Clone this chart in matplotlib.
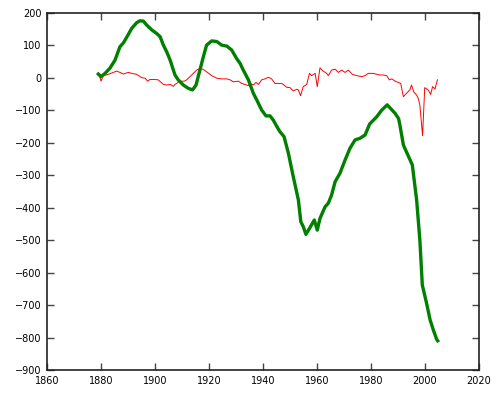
#!/usr/bin/python
# -*- coding: utf-8 -*-
"""Cumulative and annual values, 1879-2005, redrawn in gnuplot style."""

import matplotlib
matplotlib.use('Agg')
import matplotlib.pyplot as plt

# thick green line: cumulative series
cum_years = [1879, 1880, 1881.5, 1883.3, 1885.2, 1887, 1888.3, 1889.5, 1891.4,
             1893.2, 1894.4, 1895.7, 1896.9, 1898.8, 1900.6, 1901.9, 1903.1,
             1904.3, 1905.6, 1907.4, 1908.6, 1910.5, 1912.3, 1913.9, 1915.2,
             1916, 1917.9, 1919.1, 1921, 1922.9, 1924.7, 1926.6, 1928.4,
             1930.2, 1931.5, 1932.7, 1934.6, 1936.4, 1937.7, 1939.5, 1941.1,
             1942.6, 1943.8, 1945.7, 1946.3, 1947.8, 1949.4, 1951.2, 1953.1,
             1954, 1954.9, 1955.9, 1957.2, 1959, 1960.1, 1961.1, 1963, 1964.2,
             1965.4, 1966.7, 1968.5, 1970.4, 1972.2, 1974.1, 1975.9, 1977.8,
             1979.5, 1982.1, 1984, 1986, 1988.9, 1990.2, 1990.7, 1992, 1995.3,
             1996.9, 1998.1, 1999, 2000.6, 2001.9, 2003.1, 2004.3, 2004.7]
cum_values = [12, 4, 14, 30, 55, 96, 108, 125, 153,
              170, 176, 175, 163, 148, 137, 127, 101,
              81, 55, 9, -6, -22, -32, -37, -22,
              4, 65, 101, 114, 112, 101, 98, 86,
              60, 45, 24, -6, -47, -68, -99, -117,
              -117, -130, -158, -166, -181, -232, -304, -376,
              -443, -458, -482, -464, -438, -469, -433, -397, -386,
              -361, -320, -294, -253, -217, -191, -186, -176,
              -142, -120, -99, -83, -109, -125, -145, -207, -268,
              -376, -500, -638, -695, -746, -777, -805, -810]

# thin red line: annual series
ann_years = [1879.3, 1880, 1880.9, 1882.7, 1885.2, 1885.8, 1887, 1888.3,
             1890.1, 1891.4, 1893.2, 1895, 1896.3, 1897.3, 1898.1, 1900,
             1901.2, 1903.1, 1904.3, 1905.6, 1906.8, 1907.4, 1909.3, 1910.9,
             1911.7, 1913.6, 1915.4, 1916.7, 1917.9, 1919.1, 1921, 1922.9,
             1924.7, 1926.6, 1927.8, 1929, 1930.9, 1932.1, 1933.3, 1934.6,
             1935.2, 1936.4, 1937.4, 1938.3, 1939.5, 1940.7, 1942, 1943.2,
             1944.4, 1946.9, 1947.5, 1948.8, 1950, 1951.2, 1952.5, 1953.1,
             1953.9, 1954.9, 1956.2, 1957.2, 1958, 1959.3, 1960.1, 1961.1,
             1962.3, 1963.6, 1964.2, 1965.4, 1966.7, 1967.9, 1969.1, 1970.4,
             1971.6, 1973.1, 1974.7, 1976.6, 1977.8, 1979, 1980.9, 1982.1,
             1983.3, 1984.6, 1985.8, 1986.8, 1987.7, 1988.9, 1990.1, 1991,
             1992, 1993.2, 1994.4, 1995, 1995.9, 1996.9, 1997.5, 1998.1,
             1999.1, 1999.9, 2001.2, 2002.1, 2002.8, 2003.7, 2004.6]
ann_values = [11, -10, 7, 11, 19, 21, 17, 12,
              17, 14, 11, 1, -1, -10, -5, -5,
              -6, -20, -22, -20, -26, -20, -10, -10,
              -6, 9, 24, 30, 26, 19, 7, -1,
              -3, -3, -6, -12, -10, -17, -20, -24,
              -17, -22, -14, -20, -6, -3, 2, -3,
              -17, -17, -20, -29, -30, -40, -35, -37,
              -55, -27, -20, 14, 7, 14, -27, 31,
              21, 14, 7, 24, 27, 17, 24, 17,
              24, 11, 7, 4, 7, 14, 14, 11,
              9, 9, 7, -6, -3, -10, -14, -17,
              -58, -47, -37, -22, -44, -53, -63, -84,
              -178, -30, -37, -51, -27, -34, -6]

fig = plt.figure(figsize=(5, 4), dpi=100)
ax = fig.add_axes([0.094, 0.075, 0.864, 0.8925])
ax.plot(ann_years, ann_values, color='#ff0000', lw=0.7)
ax.plot(cum_years, cum_values, color='#008000', lw=2.4)

ax.set_xlim(1860, 2020)
ax.set_ylim(-900, 200)
ax.set_xticks(range(1860, 2021, 20))
ax.set_yticks(range(-900, 201, 100))
ax.tick_params(direction='in', length=5, width=1, labelsize=7,
               top=True, right=True, color='#444444', pad=4)
for side in ax.spines.values():
    side.set_linewidth(1.2)
    side.set_color('#222222')

fig.savefig('out.png', dpi=100)
